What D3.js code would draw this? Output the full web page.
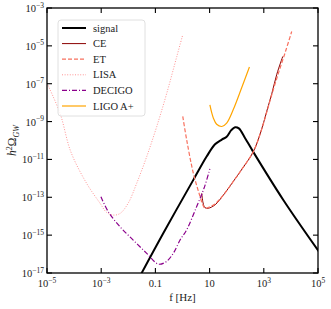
<!DOCTYPE html>
<html>
<head>
<meta charset="utf-8">
<script src="https://cdn.jsdelivr.net/npm/d3@7"></script>
<style>
  body { margin: 0; background: #fff; }
  text { font-family: "Liberation Serif", "DejaVu Serif", serif; }
</style>
</head>
<body>
<div class="chart"></div>
<script>
// values are log10(f [Hz]) and log10(h^2 Omega_GW)
const signalLogF  = [-1.6, -0.71, 0.4, 0.89, 1.2, 1.45, 1.63, 1.8, 1.94, 2.08, 2.3, 2.61, 3.72, 5.05];
const signalLogO  = [-17.25, -14.9, -12.08, -10.85, -10.2, -9.95, -9.8, -9.45, -9.3, -9.36, -9.85, -10.6, -13.14, -15.9];

const ceLogF = [0.71, 0.76, 0.83, 0.95, 1.2, 1.5, 1.87, 2.2, 2.61, 2.9, 3.11, 3.3, 3.48, 3.7];
const ceLogO = [-12.79, -13.3, -13.55, -13.58, -13.4, -12.9, -12.17, -11.5, -10.6, -9.5, -8.45, -7.5, -6.5, -5.56];

const etLogF = [0.01, 0.155, 0.4, 0.65, 0.75, 0.83, 1.01, 1.2, 1.5, 1.87, 2.2, 2.61, 2.9, 3.11, 3.3, 3.54, 3.8, 4.03];
const etLogO = [-8.73, -9.97, -11.73, -12.97, -13.4, -13.58, -13.5, -13.35, -12.9, -12.17, -11.5, -10.6, -9.5, -8.5, -7.55, -6.44, -5.3, -4.24];

const lisaLogF = [-5, -4.52, -4.12, -3.54, -3.04, -2.8, -2.55, -2.3, -2.0, -1.69, -1.32, -0.95, -0.58, -0.21, 0.01];
const lisaLogO = [-6.97, -8.56, -10.6, -12.26, -13.32, -13.8, -13.94, -13.85, -13.3, -12.26, -10.85, -9.26, -7.5, -5.56, -4.41];

const decigoLogF = [-3.01, -2.74, -2.31, -1.82, -1.32, -0.89, -0.6, -0.34, -0.09, 0.15, 0.52, 0.8, 1.01];
const decigoLogO = [-12.97, -13.76, -14.55, -15.26, -15.96, -16.53, -16.4, -15.96, -15.26, -14.73, -13.5, -12.5, -11.5];

const ligoLogF = [1.01, 1.14, 1.26, 1.45, 1.63, 1.87, 2.18, 2.47];
const ligoLogO = [-8.12, -8.82, -9.14, -9.26, -9.08, -8.38, -7.23, -6.12];

const xTickExp = [-5, -3, -1, 1, 3, 5];
const xTickLabels = ["10^-5", "10^-3", "0.1", "10", "10^3", "10^5"];
const yTickExp = [-17, -15, -13, -11, -9, -7, -5, -3];

const w = 331, h = 309;
const margin = {left: 47, right: 13, top: 8, bottom: 36};

const svg = d3.select('.chart')
    .append('svg')
    .attr('width', w)
    .attr('height', h);

const x = d3.scaleLog().domain([1e-5, 1e5]).range([margin.left, w - margin.right]);
const y = d3.scaleLog().domain([1e-17, 1e-3]).range([h - margin.bottom, margin.top]);

svg.append("clipPath").attr("id", "clip")
    .append("rect")
    .attr("x", margin.left).attr("y", margin.top)
    .attr("width", w - margin.left - margin.right)
    .attr("height", h - margin.top - margin.bottom);

const series = [
    {name: "signal", f: signalLogF, o: signalLogO, color: "#000000", width: 2, dash: null},
    {name: "CE", f: ceLogF, o: ceLogO, color: "#8b0000", width: 1, dash: null},
    {name: "ET", f: etLogF, o: etLogO, color: "#f8705e", width: 1.2, dash: "4,2"},
    {name: "LISA", f: lisaLogF, o: lisaLogO, color: "#ff9494", width: 1, dash: "1,1.6"},
    {name: "DECIGO", f: decigoLogF, o: decigoLogO, color: "#8b008b", width: 1.2, dash: "5,2,1,2"},
    {name: "LIGO A+", f: ligoLogF, o: ligoLogO, color: "#ffa500", width: 1.2, dash: null}
];

const line = d3.line()
    .x(d => x(Math.pow(10, d[0])))
    .y(d => y(Math.pow(10, d[1])))
    .curve(d3.curveCatmullRom);

// plotted in legend order, later ones on top
series.forEach(s => {
    svg.append("path")
        .attr("clip-path", "url(#clip)")
        .attr("d", line(s.f.map((v, i) => [v, s.o[i]])))
        .attr("fill", "none")
        .attr("stroke", s.color)
        .attr("stroke-width", s.width)
        .attr("stroke-dasharray", s.dash);
});

// frame
svg.append("rect")
    .attr("x", margin.left).attr("y", margin.top)
    .attr("width", w - margin.left - margin.right)
    .attr("height", h - margin.top - margin.bottom)
    .attr("fill", "none")
    .attr("stroke", "#000")
    .attr("stroke-width", 1.3);

// ticks, pointing inward on all four sides
const tickLen = 5;
xTickExp.forEach(e => {
    const px = x(Math.pow(10, e));
    svg.append("line").attr("x1", px).attr("x2", px)
        .attr("y1", h - margin.bottom).attr("y2", h - margin.bottom - tickLen)
        .attr("stroke", "#000").attr("stroke-width", 1.1);
    svg.append("line").attr("x1", px).attr("x2", px)
        .attr("y1", margin.top).attr("y2", margin.top + tickLen)
        .attr("stroke", "#000").attr("stroke-width", 1.1);
});
yTickExp.forEach(e => {
    const py = y(Math.pow(10, e));
    svg.append("line").attr("x1", margin.left).attr("x2", margin.left + tickLen)
        .attr("y1", py).attr("y2", py)
        .attr("stroke", "#000").attr("stroke-width", 1.1);
    svg.append("line").attr("x1", w - margin.right).attr("x2", w - margin.right - tickLen)
        .attr("y1", py).attr("y2", py)
        .attr("stroke", "#000").attr("stroke-width", 1.1);
});

// tick labels with superscripts
function powerLabel(sel, label) {
    if (label.indexOf("^") < 0) {
        sel.text(label);
        return;
    }
    const parts = label.split("^");
    sel.append("tspan").text(parts[0]);
    sel.append("tspan")
        .attr("font-size", 7.5)
        .attr("dy", -4.5)
        .text(parts[1].replace("-", "\u2212"));
}

xTickExp.forEach((e, i) => {
    const t = svg.append("text")
        .attr("x", x(Math.pow(10, e)))
        .attr("y", h - margin.bottom + 14)
        .attr("text-anchor", "middle")
        .attr("font-size", 10.5)
        .attr("fill", "#222");
    powerLabel(t, xTickLabels[i]);
});

yTickExp.forEach(e => {
    const t = svg.append("text")
        .attr("x", margin.left - 3)
        .attr("y", y(Math.pow(10, e)) + 4)
        .attr("text-anchor", "end")
        .attr("font-size", 10.5)
        .attr("fill", "#222");
    powerLabel(t, "10^" + e);
});

// axis labels
svg.append("text")
    .attr("x", (margin.left + w - margin.right) / 2)
    .attr("y", h - 8)
    .attr("text-anchor", "middle")
    .attr("font-size", 11)
    .attr("fill", "#222")
    .text("f [Hz]");

const yl = svg.append("text")
    .attr("transform", "translate(16," + ((margin.top + h - margin.bottom) / 2) + ") rotate(-90)")
    .attr("text-anchor", "middle")
    .attr("font-size", 11.5)
    .attr("fill", "#222");
yl.append("tspan").attr("font-style", "italic").text("h");
yl.append("tspan").attr("font-size", 8).attr("dy", -4.5).text("2");
yl.append("tspan").attr("dy", 4.5).text("\u03A9");
yl.append("tspan").attr("font-size", 8).attr("font-style", "italic").attr("dy", 2.5).text("GW");

// legend
const lg = svg.append("g");
lg.append("rect")
    .attr("x", 58).attr("y", 20)
    .attr("width", 87).attr("height", 96)
    .attr("rx", 3)
    .attr("fill", "#fff")
    .attr("fill-opacity", 0.85)
    .attr("stroke", "#d8d8d8")
    .attr("stroke-width", 0.8);

series.forEach((s, i) => {
    const ly = 28 + i * 15.6;
    lg.append("line")
        .attr("x1", 62).attr("x2", 86)
        .attr("y1", ly).attr("y2", ly)
        .attr("stroke", s.color)
        .attr("stroke-width", s.width)
        .attr("stroke-dasharray", s.dash);
    lg.append("text")
        .attr("x", 93)
        .attr("y", ly + 3.5)
        .attr("font-size", 10.5)
        .attr("fill", "#222")
        .text(s.name);
});
</script>
</body>
</html>
